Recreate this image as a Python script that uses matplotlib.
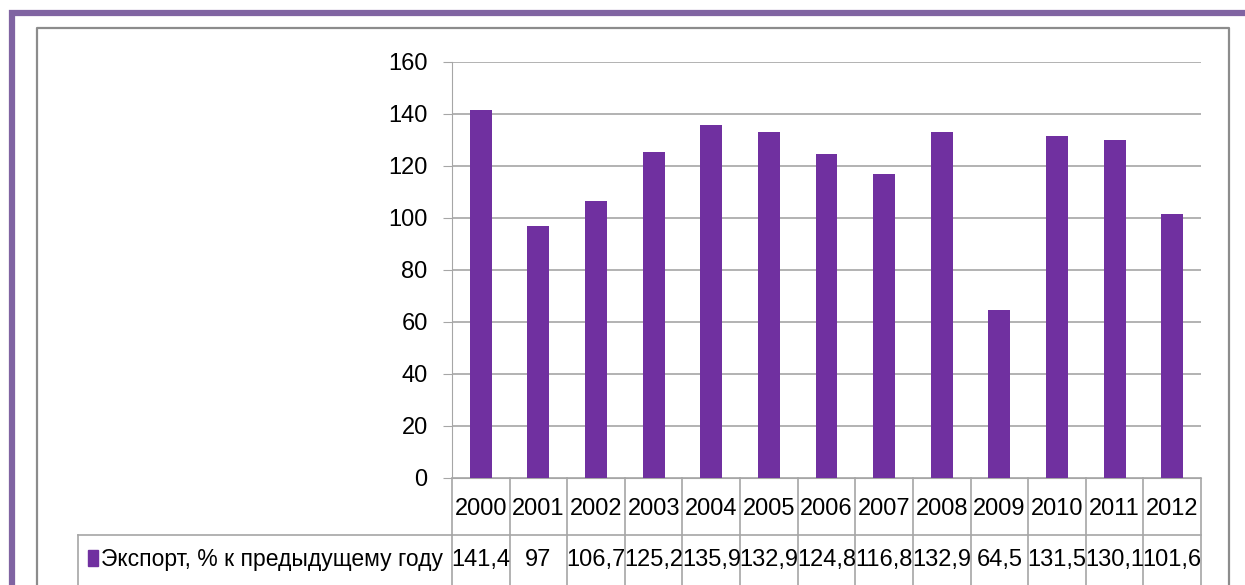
import matplotlib.pyplot as plt
from matplotlib.patches import Rectangle
from matplotlib.lines import Line2D
import matplotlib.transforms as mtransforms

years = ['2000', '2001', '2002', '2003', '2004', '2005', '2006', '2007',
         '2008', '2009', '2010', '2011', '2012']
export_pct = [141.4, 97, 106.7, 125.2, 135.9, 132.9, 124.8, 116.8,
              132.9, 64.5, 131.5, 130.1, 101.6]
value_labels = ['141,4', '97', '106,7', '125,2', '135,9', '132,9', '124,8',
                '116,8', '132,9', '64,5', '131,5', '130,1', '101,6']
series_name = 'Экспорт, % к предыдущему году'
yticks = [0, 20, 40, 60, 80, 100, 120, 140, 160]

W, H = 1245, 585
plt.rcParams['font.family'] = ['Liberation Sans', 'DejaVu Sans']
FS = 17

fig = plt.figure(figsize=(W / 100, H / 100), dpi=100)


def fx(px):
    return px / W


def fy(py):
    return 1 - py / H


# purple outer frame and grey chart box
fig.add_artist(Line2D([fx(12), fx(12), 1], [0, fy(13), fy(13)], color='#8064A2',
                      lw=4.5, solid_joinstyle='miter'))
fig.add_artist(Line2D([fx(37), fx(37), fx(1229), fx(1229)],
                      [0, fy(28), fy(28), 0], color='#8c8c8c', lw=1.6))

ax = fig.add_axes([fx(452), fy(478), fx(1201) - fx(452), fy(62) - fy(478)])
x = range(len(years))
ax.bar(x, export_pct, width=0.38, color='#7030A0', zorder=3)
ax.set_xlim(-0.5, len(years) - 0.5)
ax.set_ylim(0, 160)
ax.set_yticks(yticks)
ax.set_yticklabels([str(t) for t in yticks], fontsize=FS)
ax.set_xticks([])
ax.grid(axis='y', color='#a6a6a6', lw=1.2, zorder=0)
for s in ['top', 'right']:
    ax.spines[s].set_visible(False)
ax.spines['left'].set_color('#a6a6a6')
ax.spines['bottom'].set_color('#a6a6a6')
ax.tick_params(axis='y', length=6.5, color='#a6a6a6', pad=11)

# data table below the axes
tr = mtransforms.blended_transform_factory(ax.transData, ax.transAxes)
ppx = 1 / (fy(62) - fy(478)) / H  # axes units per pixel (vertical)
row1 = -(535 - 478) * ppx
row_bot = -(600 - 478) * ppx
line_kw = dict(color='#a6a6a6', lw=1.2, clip_on=False)
for i in range(len(years) + 1):
    ax.add_line(Line2D([i - 0.5, i - 0.5], [0, row_bot], transform=tr, **line_kw))
ax.add_line(Line2D([-0.5, len(years) - 0.5], [row1, row1], transform=tr, **line_kw))
fig.add_artist(Line2D([fx(78), fx(452)], [fy(535), fy(535)], color='#a6a6a6', lw=1.2))
fig.add_artist(Line2D([fx(78), fx(78)], [fy(535), 0], color='#a6a6a6', lw=1.2))

for i, (yr, lab) in enumerate(zip(years, value_labels)):
    ax.text(i, -(515 - 478) * ppx, yr, transform=tr, ha='center',
            va='baseline', fontsize=FS, clip_on=False)
    ax.text(i, -(566 - 478) * ppx, lab, transform=tr, ha='center',
            va='baseline', fontsize=FS, clip_on=False)

fig.add_artist(Rectangle((fx(88), fy(566)), fx(10), fy(550) - fy(566),
                         color='#7030A0'))
fig.text(fx(101), fy(566), series_name, ha='left', va='baseline',
         fontsize=16.5)

fig.savefig('out.png', dpi=100)
